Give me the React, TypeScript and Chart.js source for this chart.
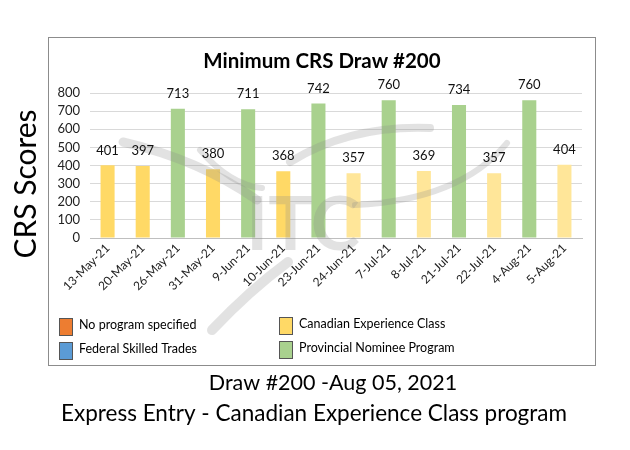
import React, { useEffect, useRef } from "react";
import { Chart, registerables } from "chart.js";

Chart.register(...registerables);

const drawDates = [
  "13-May-21", "20-May-21", "26-May-21", "31-May-21", "9-Jun-21", "10-Jun-21", "23-Jun-21",
  "24-Jun-21", "7-Jul-21", "8-Jul-21", "21-Jul-21", "22-Jul-21", "4-Aug-21", "5-Aug-21",
];
const crsScores = [401, 397, 713, 380, 711, 368, 742, 357, 760, 369, 734, 357, 760, 404];
const drawPrograms = [
  "CEC", "CEC", "PNP", "CEC", "PNP", "CEC", "PNP",
  "CEC", "PNP", "CEC", "PNP", "CEC", "PNP", "CEC",
];
const legendLabels = [
  "No program specified",
  "Federal Skilled Trades",
  "Canadian Experience Class",
  "Provincial Nominee Program",
];
const legendPrograms = ["NONE", "FST", "CEC", "PNP"];
const yMax = 800;
const yStep = 100;
const chartTitle = "Minimum CRS Draw #200";
const yTitle = "CRS Scores";
const footerLine1 = "Draw #200 -Aug 05, 2021";
const footerLine2 = "Express Entry - Canadian Experience Class program";
const watermarkText = "ITC";

const FONT = "Lato, 'Noto Sans', sans-serif";
const programColors: Record<string, string> = {
  NONE: "#ED7D31",
  FST: "#5B9BD5",
  CEC: "#FFD966",
  PNP: "#A9D18E",
};
const cecLight = "#FFE699";

function barColor(i: number): string {
  const p = drawPrograms[i];
  if (p === "CEC" && i > 6) return cecLight;
  return programColors[p];
}

export default function App() {
  const ref = useRef<HTMLCanvasElement | null>(null);

  useEffect(() => {
    if (!ref.current) return;
    const decor = {
      id: "decor",
      beforeDraw(chart: any) {
        const ctx = chart.ctx;
        ctx.save();
        ctx.fillStyle = "#ffffff";
        ctx.fillRect(0, 0, chart.width, chart.height);
        ctx.strokeStyle = "#8c8c8c";
        ctx.lineWidth = 1;
        ctx.strokeRect(48.5, 37.5, 547, 328);
        ctx.restore();
      },
      afterDatasetsDraw(chart: any) {
        const ctx = chart.ctx;
        ctx.save();
        // watermark
        ctx.globalAlpha = 0.25;
        ctx.fillStyle = "#8a8a8a";
        ctx.strokeStyle = "#8a8a8a";
        ctx.font = `bold 74px ${FONT}`;
        ctx.textAlign = "center";
        ctx.textBaseline = "middle";
        ctx.fillText(watermarkText, 303, 226);
        ctx.lineCap = "round";
        ctx.lineWidth = 9;
        ctx.beginPath();
        ctx.moveTo(123, 142);
        ctx.quadraticCurveTo(200, 160, 257, 200);
        ctx.stroke();
        ctx.lineWidth = 6;
        ctx.beginPath();
        ctx.moveTo(200, 150);
        ctx.quadraticCurveTo(230, 185, 262, 188);
        ctx.stroke();
        ctx.lineWidth = 8;
        ctx.beginPath();
        ctx.moveTo(290, 162);
        ctx.quadraticCurveTo(350, 125, 430, 128);
        ctx.stroke();
        ctx.lineWidth = 6;
        ctx.beginPath();
        ctx.moveTo(355, 205);
        ctx.quadraticCurveTo(460, 200, 507, 143);
        ctx.stroke();
        ctx.lineWidth = 10;
        ctx.beginPath();
        ctx.moveTo(212, 330);
        ctx.quadraticCurveTo(250, 290, 288, 262);
        ctx.stroke();
        ctx.restore();
      },
      afterDraw(chart: any) {
        const ctx = chart.ctx;
        ctx.save();
        // title
        ctx.fillStyle = "#000";
        ctx.font = `bold 20.5px ${FONT}`;
        ctx.textAlign = "center";
        ctx.textBaseline = "middle";
        ctx.fillText(chartTitle, 322, 61);
        // data labels
        const meta = chart.getDatasetMeta(0);
        ctx.font = `13px ${FONT}`;
        ctx.fillStyle = "#111";
        meta.data.forEach((bar: any, i: number) => {
          ctx.fillText(String(crsScores[i]), bar.x, bar.y - 15);
        });
        // y title
        ctx.save();
        ctx.translate(26, 184);
        ctx.rotate(-Math.PI / 2);
        ctx.font = `30px ${FONT}`;
        ctx.fillStyle = "#000";
        ctx.fillText(yTitle, 0, 0);
        ctx.restore();
        // legend
        const pos = [
          [59, 326], [59, 350], [279, 325], [279, 349],
        ];
        legendLabels.forEach((lab, k) => {
          const [x, y] = pos[k];
          ctx.fillStyle = programColors[legendPrograms[k]];
          ctx.fillRect(x, y - 8, 13, 17);
          ctx.strokeStyle = "#555";
          ctx.lineWidth = 1;
          ctx.strokeRect(x + 0.5, y - 7.5, 13, 17);
          ctx.fillStyle = "#000";
          ctx.font = `12.5px ${FONT}`;
          ctx.textAlign = "left";
          ctx.fillText(lab, x + 20, y - 1);
        });
        // footer
        ctx.textAlign = "center";
        ctx.font = `21.5px ${FONT}`;
        ctx.fillStyle = "#000";
        ctx.fillText(footerLine1, 333, 383);
        ctx.font = `22.5px ${FONT}`;
        ctx.fillText(footerLine2, 314, 414);
        ctx.restore();
      },
    };

    const chart = new Chart(ref.current, {
      type: "bar",
      data: {
        labels: drawDates,
        datasets: [
          {
            label: "CRS",
            data: crsScores,
            backgroundColor: crsScores.map((_, i) => barColor(i)),
            barPercentage: 0.4,
            categoryPercentage: 1,
          },
        ],
      },
      options: {
        responsive: false,
        animation: false,
        layout: { padding: { left: 0, top: 93, right: 48, bottom: 132 } },
        plugins: {
          legend: { display: false },
          title: { display: false },
          tooltip: { enabled: false },
        },
        scales: {
          x: {
            grid: { display: false, drawTicks: false },
            border: { display: true, color: "#bfbfbf" },
            ticks: {
              maxRotation: 45,
              minRotation: 45,
              autoSkip: false,
              padding: 3,
              color: "#222",
              font: { family: FONT, size: 12 },
            },
            afterFit(scale: any) {
              scale.height = 80;
            },
          },
          y: {
            min: 0,
            max: yMax,
            grid: { color: "#d9d9d9", drawTicks: false },
            border: { display: false },
            ticks: {
              stepSize: yStep,
              autoSkip: false,
              padding: 10,
              color: "#222",
              font: { family: FONT, size: 13 },
            },
            afterFit(scale: any) {
              scale.width = 90;
            },
          },
        },
      },
      plugins: [decor],
    });
    return () => chart.destroy();
  }, []);

  return (
    <div style={{ position: "absolute", left: 0, top: 0, width: 630, height: 450 }}>
      <canvas ref={ref} width={630} height={450} />
    </div>
  );
}
